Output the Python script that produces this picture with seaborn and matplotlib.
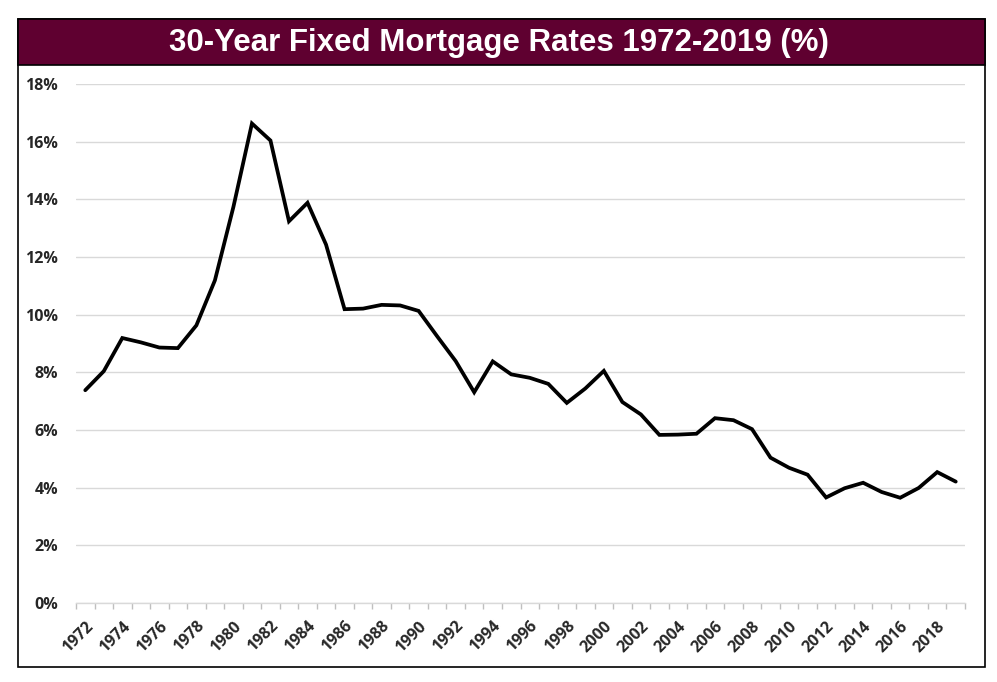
"""
30-Year Fixed Mortgage Rates 1972-2019 — line chart recreation
"""

import numpy as np
import pandas as pd
import matplotlib
matplotlib.use("Agg")
import matplotlib.pyplot as plt
from matplotlib.patches import Rectangle
from matplotlib.ticker import FuncFormatter
import seaborn as sns


# ── Data ───────────────────────────────────────────────────────────

years = list(range(1972, 2020))
rates = [7.38, 8.04, 9.19, 9.04, 8.86, 8.84, 9.63, 11.19, 13.74, 16.63,
         16.04, 13.24, 13.88, 12.43, 10.19, 10.21, 10.34, 10.32, 10.13, 9.25,
         8.39, 7.31, 8.38, 7.93, 7.81, 7.60, 6.94, 7.44, 8.05, 6.97,
         6.54, 5.83, 5.84, 5.87, 6.41, 6.34, 6.03, 5.04, 4.69, 4.45,
         3.66, 3.98, 4.17, 3.85, 3.65, 3.99, 4.54, 4.21]
label_years = list(range(1972, 2019, 2))
y_ticks = [0, 2, 4, 6, 8, 10, 12, 14, 16, 18]
title = "30-Year Fixed Mortgage Rates 1972-2019 (%)"

df = pd.DataFrame({"year": years, "rate": rates})

# ── Figure ─────────────────────────────────────────────────────────

sns.set_theme(style="white")
plt.rcParams["font.family"] = ["Open Sans", "DejaVu Sans"]

W, H = 997, 682
fig = plt.figure(figsize=(W / 100, H / 100), dpi=100)
fig.patch.set_facecolor("white")

# outer frame + title banner
fig.add_artist(Rectangle((18 / W, 1 - 667 / H), (985 - 18) / W, (667 - 19) / H,
                         transform=fig.transFigure, fill=False,
                         edgecolor="black", linewidth=1.2))
fig.add_artist(Rectangle((18 / W, 1 - 65 / H), (985 - 18) / W, (65 - 19) / H,
                         transform=fig.transFigure, facecolor="#5f0030",
                         edgecolor="black", linewidth=1.2))
fig.text(0.5, 1 - 43 / H, title, ha="center", va="center", color="white",
         fontsize=22.5, fontweight="bold",
         family=["Liberation Sans Narrow", "Liberation Sans", "DejaVu Sans"])

ax = fig.add_axes([76 / W, 1 - 603 / H, (965 - 76) / W, (603 - 84) / H])
sns.lineplot(data=df, x="year", y="rate", ax=ax, color="black",
             linewidth=2.7, solid_joinstyle="miter")

ax.set_xlim(1971.5, 2019.5)
ax.set_ylim(0, 18)
ax.set_yticks(y_ticks)
ax.yaxis.set_major_formatter(FuncFormatter(lambda v, p: f"{v:.0f}%"))
ax.grid(axis="y", color="#d9d9d9", linewidth=1)
ax.set_axisbelow(True)

ax.set_xticks(label_years)
ax.set_xticks(np.arange(1971.5, 2020, 1), minor=True)
ax.set_xticklabels([str(y) for y in label_years], rotation=45, ha="right",
                   rotation_mode="anchor", fontsize=11.5, fontweight="bold")
ax.tick_params(axis="x", which="major", length=0, pad=11)
ax.tick_params(axis="x", which="minor", length=4, color="#bfbfbf", width=1,
               direction="out", bottom=True)
ax.tick_params(axis="y", length=0, pad=13, labelsize=11.5)
for lbl in ax.get_yticklabels():
    lbl.set_fontweight("bold")

for s in ["top", "right", "left"]:
    ax.spines[s].set_visible(False)
ax.spines["bottom"].set_color("#d9d9d9")
ax.spines["bottom"].set_linewidth(1)

ax.set_xlabel("")
ax.set_ylabel("")

fig.savefig("out.png", dpi=100)
